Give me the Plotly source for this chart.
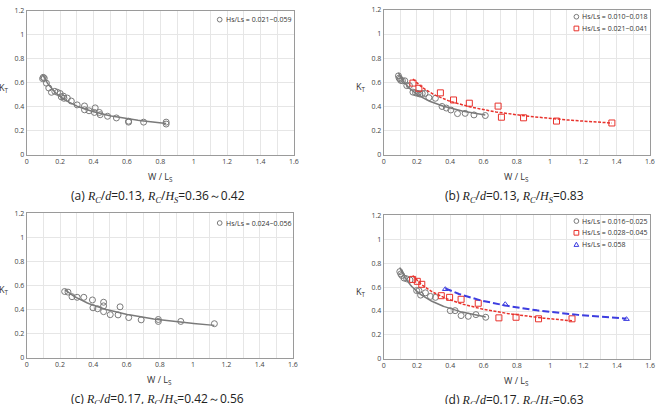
import numpy as np
import plotly.graph_objects as go

# ---------------- data ----------------
a_x = [0.099, 0.105, 0.095, 0.118, 0.132, 0.148, 0.168, 0.184, 0.200, 0.207, 0.220, 0.223, 0.243, 0.267,
       0.302, 0.346, 0.346, 0.373, 0.405, 0.410, 0.435, 0.440, 0.484, 0.537, 0.610, 0.610, 0.700, 0.835, 0.835]
a_y = [0.645, 0.637, 0.634, 0.596, 0.556, 0.520, 0.528, 0.520, 0.510, 0.482, 0.488, 0.470, 0.472, 0.447,
       0.415, 0.406, 0.374, 0.366, 0.352, 0.390, 0.352, 0.333, 0.320, 0.306, 0.279, 0.271, 0.271, 0.271, 0.255]

b1_x = [0.089, 0.093, 0.099, 0.103, 0.113, 0.127, 0.139, 0.155, 0.176, 0.192, 0.206, 0.218, 0.232, 0.248,
        0.272, 0.311, 0.351, 0.377, 0.404, 0.444, 0.490, 0.543, 0.611]
b1_y = [0.653, 0.634, 0.626, 0.615, 0.612, 0.612, 0.572, 0.572, 0.518, 0.512, 0.507, 0.502, 0.507, 0.507,
        0.472, 0.467, 0.399, 0.386, 0.370, 0.340, 0.342, 0.329, 0.324]
b2_x = [0.176, 0.212, 0.341, 0.420, 0.515, 0.688, 0.708, 0.841, 1.039, 1.372]
b2_y = [0.593, 0.550, 0.512, 0.453, 0.426, 0.402, 0.310, 0.305, 0.278, 0.262]

c_x = [0.228, 0.248, 0.272, 0.303, 0.343, 0.395, 0.398, 0.426, 0.462, 0.462, 0.462, 0.502, 0.549, 0.561,
       0.613, 0.688, 0.791, 0.791, 0.926, 1.128]
c_y = [0.551, 0.546, 0.508, 0.503, 0.503, 0.481, 0.416, 0.408, 0.462, 0.432, 0.384, 0.359, 0.357, 0.424,
       0.335, 0.316, 0.319, 0.303, 0.303, 0.284]

d1_x = [0.097, 0.103, 0.109, 0.123, 0.138, 0.158, 0.198, 0.212, 0.222, 0.251, 0.281, 0.311, 0.400, 0.429,
        0.465, 0.508, 0.554, 0.613]
d1_y = [0.729, 0.710, 0.697, 0.675, 0.669, 0.659, 0.571, 0.571, 0.533, 0.552, 0.522, 0.514, 0.403, 0.403,
        0.362, 0.356, 0.370, 0.348]
d2_x = [0.174, 0.202, 0.229, 0.346, 0.396, 0.465, 0.568, 0.692, 0.795, 0.930, 1.131]
d2_y = [0.664, 0.648, 0.623, 0.528, 0.514, 0.498, 0.465, 0.343, 0.348, 0.335, 0.335]
d3_x = [0.370, 0.730, 1.458]
d3_y = [0.582, 0.457, 0.332]

labels_a = ["Hs/Ls = 0.021~0.059"]
labels_b = ["Hs/Ls = 0.010~0.018", "Hs/Ls = 0.021~0.041"]
labels_c = ["Hs/Ls = 0.024~0.056"]
labels_d = ["Hs/Ls = 0.016~0.025", "Hs/Ls = 0.028~0.045", "Hs/Ls = 0.058"]

x_ticks = [0, 0.2, 0.4, 0.6, 0.8, 1, 1.2, 1.4, 1.6]
y_ticks = [0, 0.2, 0.4, 0.6, 0.8, 1, 1.2]

# ---------------- styles ----------------
W, H = 666, 404
GRAY = "#7a7a7a"
RED = "#e8322c"
BLUE = "#3d3de0"
SERIF = "Liberation Serif"
SANS = "Open Sans"

fig = go.Figure()
legend_items = {1: [], 2: [], 3: [], 4: []}


def power_fit(xs, ys):
    xs = np.asarray(xs); ys = np.asarray(ys)
    b, ln_a = np.polyfit(np.log(xs), np.log(ys), 1)
    xx = np.linspace(xs.min(), xs.max(), 80)
    return xx, np.exp(ln_a) * xx ** b


def add_series(xs, ys, name, ax, symbol, color, dash, lw, ms):
    axn = "" if ax == 1 else str(ax)
    fx, fy = power_fit(xs, ys)
    fig.add_trace(go.Scatter(x=fx, y=fy, mode="lines", showlegend=False,
                             line=dict(color=color, width=lw, dash=dash),
                             xaxis="x" + axn, yaxis="y" + axn, hoverinfo="skip"))
    fig.add_trace(go.Scatter(x=xs, y=ys, mode="markers", name=name, showlegend=False,
                             marker=dict(symbol=symbol, size=ms, color=color,
                                         line=dict(color=color, width=1)),
                             xaxis="x" + axn, yaxis="y" + axn))
    legend_items[ax].append((name, symbol, color))


add_series(a_x, a_y, labels_a[0], 1, "circle-open", GRAY, "solid", 1.5, 6)
add_series(b1_x, b1_y, labels_b[0], 2, "circle-open", GRAY, "solid", 1.5, 6)
add_series(b2_x, b2_y, labels_b[1], 2, "square-open", RED, "3px,1.5px", 1.5, 6)
add_series(c_x, c_y, labels_c[0], 3, "circle-open", GRAY, "solid", 1.5, 6)
add_series(d1_x, d1_y, labels_d[0], 4, "circle-open", GRAY, "solid", 1.5, 6)
add_series(d2_x, d2_y, labels_d[1], 4, "square-open", RED, "3px,1.5px", 1.5, 6)
add_series(d3_x, d3_y, labels_d[2], 4, "triangle-up-open", BLUE, "7px,3px", 2, 5)

# panel boxes in pixels: (left, right, top, bottom)
panels = [(25, 295, 6, 153), (385.7, 654.7, 5, 153), (25, 294, 213, 361), (385.7, 655, 215, 362)]

tickfont = dict(family=SANS, size=7, color="#444")
layout = dict(width=W, height=H, margin=dict(l=0, r=0, t=0, b=0),
              paper_bgcolor="white", plot_bgcolor="white", showlegend=False)

for i, (l, r, t, b) in enumerate(panels):
    n = "" if i == 0 else str(i + 1)
    dx = [l / W, r / W]
    dy = [1 - b / H, 1 - t / H]
    layout["xaxis" + n] = dict(domain=dx, range=[0, 1.6], anchor="y" + n, tickvals=x_ticks,
                               showgrid=True, gridcolor="#e6e6e6", gridwidth=1,
                               minor=dict(dtick=0.1, showgrid=True, gridcolor="#e6e6e6", gridwidth=1),
                               showline=True, linecolor="#9a9a9a", linewidth=1, mirror=True,
                               zeroline=False, ticks="", tickfont=tickfont, fixedrange=True)
    layout["yaxis" + n] = dict(domain=dy, range=[0, 1.2], anchor="x" + n, tickvals=y_ticks,
                               showgrid=True, gridcolor="#e6e6e6", gridwidth=1,
                               showline=True, linecolor="#9a9a9a", linewidth=1, mirror=True,
                               zeroline=False, ticks="", tickfont=tickfont, fixedrange=True)

fig.update_layout(**layout)


def it(s):
    return '<span style="font-family:%s"><i>%s</i></span>' % (SERIF, s)


RC = it("R<sub>C</sub>")
captions = [
    "(a) %s/%s=0.13, %s/%s=0.36～0.42" % (RC, it("d"), RC, it("H<sub>S</sub>")),
    "(b) %s/%s=0.13, %s/%s=0.83" % (RC, it("d"), RC, it("H<sub>S</sub>")),
    "(c) %s/%s=0.17, %s/%s=0.42～0.56" % (RC, it("d"), RC, it("H<sub>S</sub>")),
    "(d) %s/%s=0.17, %s/%s=0.63" % (RC, it("d"), RC, it("H<sub>S</sub>")),
]
ann = []
shapes = []
# legend anchor (marker centre x, first row y) in pixels, and row step
leg_pos = {1: (220, 15), 2: (580.5, 12), 3: (220, 223), 4: (580.5, 221)}
ROW = 12
R = 2.4

for i, (l, r, t, b) in enumerate(panels):
    cx = (l + r) / 2
    ann.append(dict(x=cx / W, y=1 - (b + 23) / H, xref="paper", yref="paper", showarrow=False,
                    text="W / L<sub>S</sub>", font=dict(family=SANS, size=9, color="#333"),
                    xanchor="center", yanchor="middle"))
    ann.append(dict(x=(l - 23) / W, y=1 - ((t + b) / 2 + 5) / H, xref="paper", yref="paper",
                    showarrow=False, text="K<sub>T</sub>", font=dict(family=SANS, size=9, color="#333"),
                    xanchor="center", yanchor="middle"))
    ann.append(dict(x=(cx - 2) / W, y=1 - (b + 42) / H, xref="paper", yref="paper", showarrow=False,
                    text=captions[i], font=dict(family=SANS, size=12, color="#222"),
                    xanchor="center", yanchor="middle"))
    mx, my0 = leg_pos[i + 1]
    for k, (name, symbol, color) in enumerate(legend_items[i + 1]):
        my = my0 + k * ROW
        ann.append(dict(x=(mx + 4) / W, y=1 - my / H, xref="paper", yref="paper", showarrow=False,
                        text=name, font=dict(family=SANS, size=7, color="#333"),
                        xanchor="left", yanchor="middle"))
        line = dict(color=color, width=1)
        if symbol.startswith("circle"):
            shapes.append(dict(type="circle", xref="paper", yref="paper", line=line,
                               x0=(mx - R) / W, x1=(mx + R) / W, y0=1 - (my + R) / H, y1=1 - (my - R) / H))
        elif symbol.startswith("square"):
            shapes.append(dict(type="rect", xref="paper", yref="paper", line=line,
                               x0=(mx - R) / W, x1=(mx + R) / W, y0=1 - (my + R) / H, y1=1 - (my - R) / H))
        else:
            p = [(mx, my - R), (mx + R, my + R * 0.8), (mx - R, my + R * 0.8)]
            path = "M %f %f L %f %f L %f %f Z" % tuple(v for (px, py) in p for v in (px / W, 1 - py / H))
            shapes.append(dict(type="path", xref="paper", yref="paper", line=line, path=path))

fig.update_layout(annotations=ann, shapes=shapes)

fig.write_html("out.html")
